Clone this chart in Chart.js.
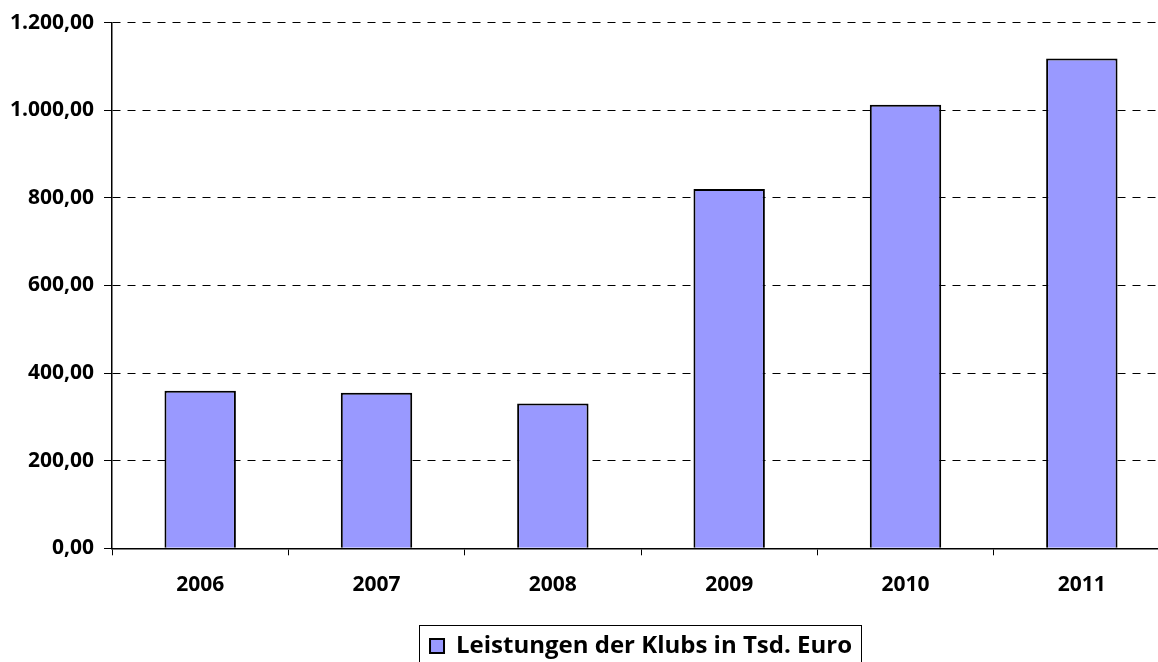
<!DOCTYPE html>
<html>
<head>
<meta charset="utf-8">
<script src="https://cdn.jsdelivr.net/npm/chart.js@4"></script>
<style>
  html, body { margin: 0; padding: 0; background: #fff; overflow: hidden; }
  #wrap { position: absolute; left: 0; top: 0; width: 1182px; height: 662px; }
</style>
</head>
<body>
<div id="wrap"><canvas id="chart"></canvas></div>
<script>
const years = ['2006', '2007', '2008', '2009', '2010', '2011'];
const leistungen = [359.4, 354.8, 330.5, 820.2, 1012.7, 1118.2];
const seriesName = 'Leistungen der Klubs in Tsd. Euro';

const fmt = v => v.toLocaleString('de-DE', { minimumFractionDigits: 2, maximumFractionDigits: 2 });

// rahmen um die legende, wie in excel
const legendFrame = {
    id: 'legendFrame',
    afterDraw(chart) {
        const lg = chart.legend;
        if (!lg || !lg.legendHitBoxes.length) return;
        const hb = lg.legendHitBoxes[0];
        const ctx = chart.ctx;
        ctx.save();
        ctx.strokeStyle = '#000';
        ctx.lineWidth = 1;
        ctx.strokeRect(Math.round(hb.left - 11) + 0.5, Math.round(hb.top + hb.height / 2 - 21) + 0.5, Math.round(hb.width + 20), 60);
        ctx.restore();
    }
};

new Chart(document.getElementById('chart').getContext('2d'), {
    type: 'bar',
    data: {
        labels: years,
        datasets: [{
            label: seriesName,
            data: leistungen,
            backgroundColor: '#9999ff',
            borderColor: '#000',
            borderWidth: 2,
            barPercentage: 1,
            categoryPercentage: 0.405
        }]
    },
    options: {
        responsive: true,
        maintainAspectRatio: false,
        animation: false,
        layout: { padding: { left: 0, right: 12, top: 18, bottom: -6 } },
        plugins: {
            tooltip: { enabled: false },
            legend: {
                position: 'bottom',
                fullSize: false,
                labels: {
                    color: '#000',
                    font: { family: 'Open Sans', size: 24, weight: 'bold' },
                    boxWidth: 14,
                    boxHeight: 14,
                    padding: 0
                }
            }
        },
        scales: {
            x: {
                grid: { display: true, drawOnChartArea: false, offset: true, color: '#000', tickLength: 7 },
                border: { color: '#000', width: 1.5 },
                ticks: {
                    color: '#000',
                    padding: 17,
                    maxRotation: 0,
                    font: { family: 'Open Sans', size: 21, weight: 'bold' }
                },
                afterFit(scale) { scale.height += 19.5; }
            },
            y: {
                min: 0,
                max: 1200,
                grid: { color: '#000', lineWidth: 1, tickLength: 8, tickBorderDash: [] },
                border: { color: '#000', width: 1.5, dash: [8, 7] },
                ticks: {
                    stepSize: 200,
                    color: '#000',
                    padding: 10,
                    font: { family: 'Open Sans', size: 21, weight: 'bold' },
                    callback: v => fmt(v)
                }
            }
        }
    },
    plugins: [legendFrame]
});
</script>
</body>
</html>
